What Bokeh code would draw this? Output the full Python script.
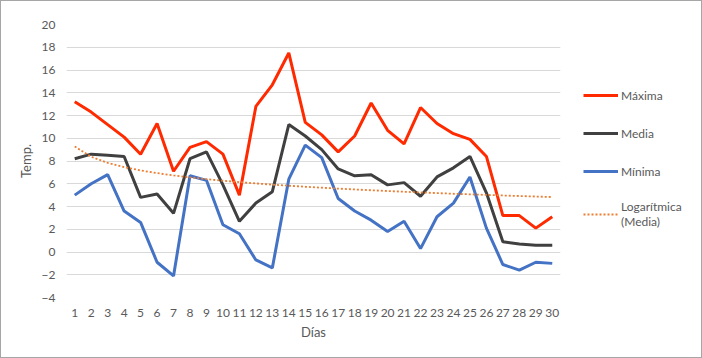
import numpy as np
from bokeh.plotting import figure
from bokeh.layouts import row
from bokeh.models import Range1d, FixedTicker, Legend, LegendItem
from bokeh.embed import file_html
from bokeh.resources import INLINE

dias = list(range(1, 31))
maxima = [13.2, 12.3, 11.2, 10.1, 8.6, 11.3, 7.1, 9.2, 9.7, 8.6, 5.0, 12.8, 14.7, 17.5, 11.4,
          10.3, 8.8, 10.2, 13.1, 10.7, 9.5, 12.7, 11.3, 10.4, 9.9, 8.4, 3.2, 3.2, 2.1, 3.1]
media = [8.2, 8.6, 8.5, 8.4, 4.8, 5.1, 3.4, 8.2, 8.8, 5.9, 2.7, 4.3, 5.3, 11.2, 10.2,
         9.0, 7.3, 6.7, 6.8, 5.9, 6.1, 4.9, 6.6, 7.4, 8.4, 5.2, 0.9, 0.7, 0.6, 0.6]
minima = [5.0, 6.0, 6.8, 3.6, 2.6, -0.9, -2.1, 6.7, 6.3, 2.4, 1.6, -0.7, -1.4, 6.4, 9.4,
          8.3, 4.7, 3.6, 2.8, 1.8, 2.7, 0.3, 3.1, 4.3, 6.6, 2.1, -1.1, -1.6, -0.9, -1.0]
y_ticks = list(range(-4, 21, 2))
series_names = ["Máxima", "Media", "Mínima", "Logarítmica\n(Media)"]

# logarithmic trend line of "Media" (least squares fit, as in the spreadsheet)
a, b = np.polyfit(np.log(dias), media, 1)
tendencia = list(a * np.log(dias) + b)
series = [maxima, media, minima, tendencia]

FONT = "Lato"
TXT = "#595959"
styles = [
    dict(line_color="#FF2A00", line_width=3),
    dict(line_color="#404040", line_width=3),
    dict(line_color="#4472C4", line_width=3),
    dict(line_color="#ED7D31", line_width=1.8, line_dash="2 2"),
]

p = figure(width=561, height=356, output_backend="svg", toolbar_location=None,
           x_range=Range1d(0.5, 30.5), y_range=Range1d(-4, 20),
           min_border_left=65, min_border_right=2, min_border_top=23, min_border_bottom=60)
p.outline_line_color = None
p.background_fill_color = "white"
p.border_fill_color = "white"

for ys, st in zip(series, styles):
    p.line(dias, ys, **st)

p.xgrid.visible = False
p.ygrid.grid_line_color = "#D9D9D9"
p.ygrid.grid_line_width = 1

p.xaxis.ticker = FixedTicker(ticks=dias)
p.yaxis.ticker = FixedTicker(ticks=y_ticks)
for ax in (p.xaxis[0], p.yaxis[0]):
    ax.axis_line_color = None
    ax.major_tick_line_color = None
    ax.minor_tick_line_color = None
    ax.major_label_text_font = FONT
    ax.major_label_text_font_size = "12px"
    ax.major_label_text_color = TXT
    ax.axis_label_text_font = FONT
    ax.axis_label_text_font_size = "13px"
    ax.axis_label_text_color = TXT
    ax.axis_label_text_font_style = "normal"

p.xaxis.axis_label = "Días"
p.yaxis.axis_label = "Temp."
p.xaxis.major_label_standoff = 5
p.xaxis.axis_label_standoff = 4
p.yaxis.major_label_standoff = 5
p.yaxis.axis_label_standoff = 5

# legend panel to the right of the chart (same series, drawn outside its visible range)
pl = figure(width=139, height=356, output_backend="svg", toolbar_location=None,
            x_range=Range1d(100, 101), y_range=Range1d(100, 101),
            x_axis_type=None, y_axis_type=None,
            min_border_left=0, min_border_right=0, min_border_top=0, min_border_bottom=0)
pl.outline_line_color = None
pl.grid.visible = False
pl.background_fill_color = "white"
pl.border_fill_color = "white"

items = []
for name, ys, st in zip(series_names, series, styles):
    r = pl.line(dias, ys, **st)
    items.append(LegendItem(label=name, renderers=[r]))

legend = Legend(items=items, location=(21, 68), margin=0, padding=10, spacing=18,
                glyph_width=35, glyph_height=20, label_standoff=3,
                label_text_font=FONT, label_text_font_size="12px", label_text_color=TXT,
                border_line_color=None, background_fill_alpha=0)
pl.add_layout(legend)

layout = row(p, pl)
layout.styles = {"border": "1px solid #A6A6A6"}

open("out.html", "w").write(file_html(layout, INLINE))
